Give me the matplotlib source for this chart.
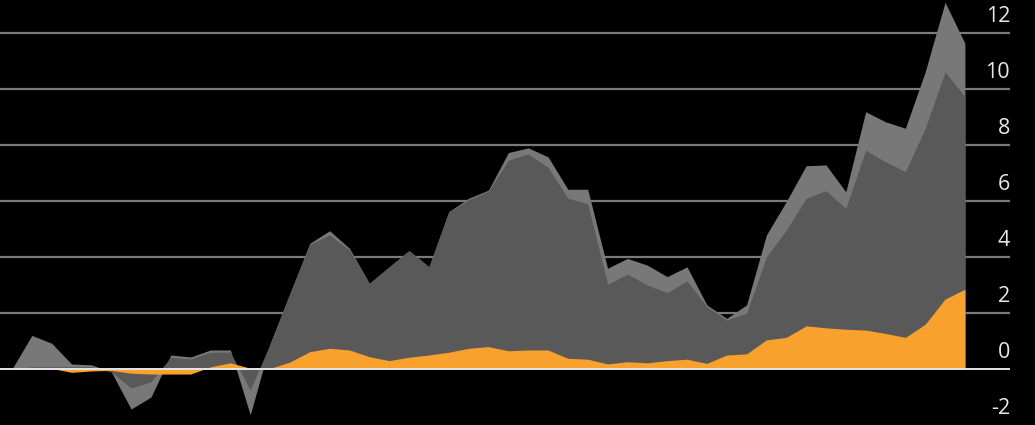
import matplotlib
matplotlib.use("Agg")
import matplotlib.pyplot as plt
import numpy as np

# values, one point per period
total = [0.0, 1.2, 0.92, 0.18, 0.15, -0.1, -1.43, -1.0, 0.5, 0.43,
         0.68, 0.68, -1.64, 0.9, 2.7, 4.49, 4.94, 4.31, 3.06, 3.65,
         4.23, 3.65, 5.62, 6.1, 6.39, 7.73, 7.9, 7.58, 6.42, 6.42,
         3.6, 3.95, 3.71, 3.3, 3.65, 2.29, 1.81, 2.29, 4.79, 5.98,
         7.26, 7.29, 6.33, 9.19, 8.83, 8.6, 10.62, 13.1, 11.63]
middle = [0.0, 0.08, 0.08, 0.08, 0.08, -0.1, -0.68, -0.45, 0.42, 0.36,
          0.6, 0.6, -0.75, 0.9, 2.7, 4.45, 4.79, 4.25, 3.06, 3.65,
          4.23, 3.65, 5.6, 6.05, 6.35, 7.46, 7.68, 7.2, 6.1, 5.9,
          3.03, 3.39, 3.0, 2.73, 3.15, 2.23, 1.75, 1.99, 4.01, 4.96,
          6.1, 6.37, 5.74, 7.82, 7.4, 7.05, 8.6, 10.62, 9.73]
orange = [0.0, 0.02, 0.02, -0.12, -0.07, -0.05, -0.15, -0.18, -0.18, -0.18,
          0.08, 0.22, 0.03, 0.02, 0.25, 0.62, 0.74, 0.68, 0.44, 0.3,
          0.42, 0.5, 0.6, 0.74, 0.8, 0.65, 0.68, 0.68, 0.38, 0.35,
          0.18, 0.26, 0.22, 0.3, 0.35, 0.2, 0.5, 0.54, 1.04, 1.13,
          1.54, 1.47, 1.42, 1.39, 1.27, 1.13, 1.6, 2.5, 2.85]
yticks = [-2, 0, 2, 4, 6, 8, 10, 12]

x = np.arange(len(total))

fig = plt.figure(figsize=(10.35, 4.25), dpi=100, facecolor="black")
ax = fig.add_axes([0, 0, 1010 / 1035, 1])
ax.set_facecolor("black")

# gridlines under the areas
for v in yticks:
    if v > 0:
        ax.axhline(v, color="#7a7a7a", lw=1.6, zorder=1)

ax.fill_between(x, 0, total, color="#787878", lw=0, zorder=2)
ax.fill_between(x, 0, middle, color="#595959", lw=0, zorder=3)
ax.fill_between(x, 0, orange, color="#f8a12c", lw=0, zorder=4)
ax.axhline(0, color="#e6e6e6", lw=1.4, zorder=5)

for v in yticks:
    ax.text(1.0, v + 0.6, str(v), transform=ax.get_yaxis_transform(),
            ha="right", va="center", color="#e8e8e8", fontsize=15.5,
            family="Open Sans")

ax.set_xlim(-0.604, 50.27)
ax.set_ylim(-2.0, 13.18)
ax.axis("off")

fig.savefig("out.png", dpi=100, facecolor="black")
